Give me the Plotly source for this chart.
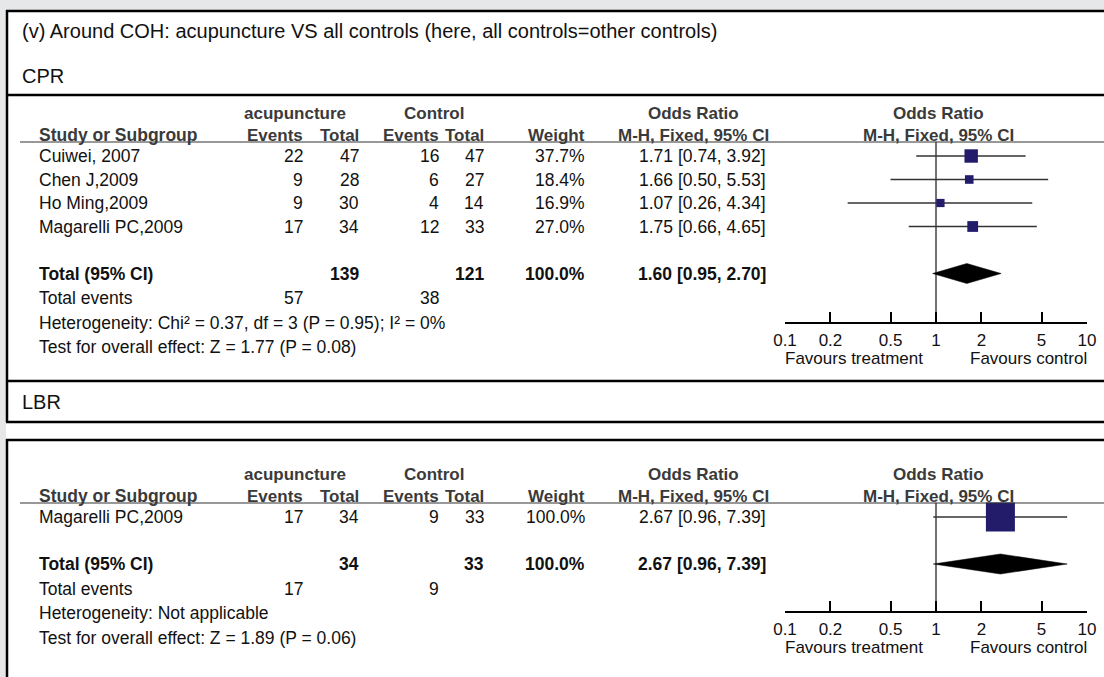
import plotly.graph_objects as go

W, H = 1104, 677
FONT = "Liberation Sans, Arial, sans-serif"

# ---------------- data ----------------
title_text = "(v) Around COH: acupuncture VS all controls (here, all controls=other controls)"
section_names = ["CPR", "LBR"]
group_labels = ["acupuncture", "Control"]

cpr_studies = ["Cuiwei, 2007", "Chen J,2009", "Ho Ming,2009", "Magarelli PC,2009"]
cpr_exp_events = [22, 9, 9, 17]
cpr_exp_total = [47, 28, 30, 34]
cpr_ctl_events = [16, 6, 4, 12]
cpr_ctl_total = [47, 27, 14, 33]
cpr_weight = [37.7, 18.4, 16.9, 27.0]
cpr_or = [1.71, 1.66, 1.07, 1.75]
cpr_lo = [0.74, 0.50, 0.26, 0.66]
cpr_hi = [3.92, 5.53, 4.34, 4.65]
cpr_pooled = [1.60, 0.95, 2.70]
cpr_totals = [139, 121]
cpr_total_events = [57, 38]
cpr_het = "Heterogeneity: Chi² = 0.37, df = 3 (P = 0.95); I² = 0%"
cpr_test = "Test for overall effect: Z = 1.77 (P = 0.08)"

lbr_studies = ["Magarelli PC,2009"]
lbr_exp_events = [17]
lbr_exp_total = [34]
lbr_ctl_events = [9]
lbr_ctl_total = [33]
lbr_weight = [100.0]
lbr_or = [2.67]
lbr_lo = [0.96]
lbr_hi = [7.39]
lbr_pooled = [2.67, 0.96, 7.39]
lbr_totals = [34, 33]
lbr_total_events = [17, 9]
lbr_het = "Heterogeneity: Not applicable"
lbr_test = "Test for overall effect: Z = 1.89 (P = 0.06)"

tick_vals = [0.1, 0.2, 0.5, 1, 2, 5, 10]
tick_labels = ["0.1", "0.2", "0.5", "1", "2", "5", "10"]
favours = ["Favours treatment", "Favours control"]

# ---------------- layout helpers ----------------
HDR = "#3a3a3a"
TXT = "#111111"
SQ = "#221c6b"
annotations = []
shapes = []
traces = []


def txt(x, y, s, anchor="left", bold=False, size=17.5, color=TXT):
    annotations.append(dict(
        x=x, y=y, xref="x", yref="y", text=f"<b>{s}</b>" if bold else str(s),
        showarrow=False, xanchor=anchor, yanchor="middle",
        font=dict(size=size, color=color, family=FONT)))


def hline(y, x0, x1, width=2.5, color="black"):
    shapes.append(dict(type="line", xref="x", yref="y", x0=x0, x1=x1, y0=y, y1=y,
                       line=dict(color=color, width=width)))


def vline(x, y0, y1, width=2.5, color="black"):
    shapes.append(dict(type="line", xref="x", yref="y", x0=x, x1=x, y0=y0, y1=y1,
                       line=dict(color=color, width=width)))


def ci_str(o, l, h):
    return f"{o:.2f} [{l:.2f}, {h:.2f}]"


COLS = dict(name=37, ee=305, et=361, ce=441, ct=486, w=587, ci=768,
            acup=295, ctl=434, orc=693, orf=938)
HS = 17  # header font size


def section(h1, step, step2, axis_y, xa, studies, ee, et, ce, ct, wt, o, lo, hi,
            pooled, totals, tevents, het, test):
    h2 = h1 + 22
    ul = h2 + 7
    row0 = ul + 14
    # headers
    txt(COLS["acup"], h1, group_labels[0], "center", True, HS, HDR)
    txt(COLS["ctl"], h1, group_labels[1], "center", True, HS, HDR)
    txt(COLS["orc"], h1, "Odds Ratio", "center", True, HS, HDR)
    txt(COLS["orf"], h1, "Odds Ratio", "center", True, HS, HDR)
    txt(COLS["name"], h2, "Study or Subgroup", "left", True, 17.5, HDR)
    txt(COLS["ee"], h2, "Events", "right", True, HS, HDR)
    txt(COLS["et"], h2, "Total", "right", True, HS, HDR)
    txt(COLS["ce"], h2, "Events", "right", True, HS, HDR)
    txt(COLS["ct"], h2, "Total", "right", True, HS, HDR)
    txt(COLS["w"], h2, "Weight", "right", True, HS, HDR)
    txt(COLS["orc"], h2, "M-H, Fixed, 95% CI", "center", True, HS, HDR)
    txt(COLS["orf"], h2, "M-H, Fixed, 95% CI", "center", True, HS, HDR)
    hline(ul, 20, W, width=1.2, color="#333333")

    ys = [row0 + i * step for i in range(len(studies))]
    for i, y in enumerate(ys):
        txt(COLS["name"], y, studies[i])
        txt(COLS["ee"], y, ee[i], "right")
        txt(COLS["et"], y, et[i], "right")
        txt(COLS["ce"], y, ce[i], "right")
        txt(COLS["ct"], y, ct[i], "right")
        txt(COLS["w"], y, f"{wt[i]:.1f}%", "right")
        txt(COLS["ci"], y, ci_str(o[i], lo[i], hi[i]), "right")
    y_tot = ys[-1] + 2 * step
    txt(COLS["name"], y_tot, "Total (95% CI)", bold=True)
    txt(COLS["et"], y_tot, totals[0], "right", True)
    txt(COLS["ct"], y_tot, totals[1], "right", True)
    txt(COLS["w"], y_tot, f"{sum(wt):.1f}%", "right", True)
    txt(COLS["ci"], y_tot, ci_str(*pooled), "right", True)
    y_ev = y_tot + step2
    txt(COLS["name"], y_ev, "Total events")
    txt(COLS["ee"], y_ev, tevents[0], "right")
    txt(COLS["ce"], y_ev, tevents[1], "right")
    txt(COLS["name"], y_ev + step2, het)
    txt(COLS["name"], y_ev + 2 * step2, test)

    # forest
    traces.append(go.Scatter(x=[1, 1], y=[ul, axis_y], xaxis=xa, yaxis="y", mode="lines",
                             line=dict(color="#444444", width=1.5), hoverinfo="skip"))
    cx, cy = [], []
    for i, y in enumerate(ys):
        cx += [lo[i], hi[i], None]
        cy += [y, y, None]
    traces.append(go.Scatter(x=cx, y=cy, xaxis=xa, yaxis="y", mode="lines",
                             line=dict(color="#333333", width=1.5), hoverinfo="skip"))
    traces.append(go.Scatter(x=o, y=ys, xaxis=xa, yaxis="y", mode="markers",
                             marker=dict(symbol="square", color=SQ, opacity=1,
                                         size=[4 + 25 * w / 100 for w in wt],
                                         line=dict(width=0)),
                             hoverinfo="skip"))
    est, plo, phi = pooled
    traces.append(go.Scatter(x=[plo, est, phi, est, plo], y=[y_tot, y_tot - 10, y_tot, y_tot + 10, y_tot],
                             xaxis=xa, yaxis="y", mode="lines", fill="toself",
                             fillcolor="black", line=dict(color="black", width=0.5),
                             hoverinfo="skip"))
    txt(783, axis_y + 35, favours[0], "left", size=17)
    txt(1089, axis_y + 35, favours[1], "right", size=17)


# ---------------- frame ----------------
shapes.append(dict(type="rect", xref="x", yref="y", x0=6, x1=W + 5, y0=10, y1=H + 5,
                   fillcolor="white", line=dict(width=0), layer="below"))
hline(11, 6, W)
vline(7, 10, 422)
hline(95, 6, W)
hline(381, 6, W)
hline(422, 6, W)
hline(440, 6, W)
vline(7, 439, H + 5)

txt(20, 31, title_text, size=20)
txt(20, 76, section_names[0], size=20)
txt(20, 402, section_names[1], size=20)

CPR_AXIS = 323
LBR_AXIS = 612
section(113, 23.5, 24.5, CPR_AXIS, "x2", cpr_studies, cpr_exp_events, cpr_exp_total,
        cpr_ctl_events, cpr_ctl_total, cpr_weight, cpr_or, cpr_lo, cpr_hi,
        cpr_pooled, cpr_totals, cpr_total_events, cpr_het, cpr_test)
section(474, 23.5, 24.5, LBR_AXIS, "x3", lbr_studies, lbr_exp_events, lbr_exp_total,
        lbr_ctl_events, lbr_ctl_total, lbr_weight, lbr_or, lbr_lo, lbr_hi,
        lbr_pooled, lbr_totals, lbr_total_events, lbr_het, lbr_test)

fig = go.Figure(data=traces)


def forest_axis(axis_y):
    return dict(type="log", range=[-1, 1], domain=[785 / W, 1087 / W], anchor="free",
                position=1 - axis_y / H, showline=True, linecolor="black", linewidth=1.5,
                ticks="inside", ticklen=10, tickwidth=1.5, tickcolor="black",
                tickmode="array", tickvals=tick_vals, ticktext=tick_labels,
                tickfont=dict(size=17, color=TXT, family=FONT), ticklabelstandoff=2,
                showgrid=False, zeroline=False, fixedrange=True, automargin=False)


fig.update_layout(
    template="none",
    width=W, height=H, margin=dict(l=0, r=0, t=0, b=0, pad=0, autoexpand=False),
    paper_bgcolor="#e6e7e9", plot_bgcolor="rgba(0,0,0,0)",
    showlegend=False,
    xaxis=dict(range=[0, W], domain=[0, 1], visible=False, fixedrange=True, automargin=False),
    yaxis=dict(range=[H, 0], domain=[0, 1], visible=False, fixedrange=True, automargin=False),
    xaxis2=forest_axis(CPR_AXIS),
    xaxis3=forest_axis(LBR_AXIS),
    annotations=annotations, shapes=shapes,
    font=dict(family=FONT),
)

fig.write_html("out.html", config={"displayModeBar": False},
               post_script="document.body.style.margin='0';document.body.style.overflow='hidden';")
